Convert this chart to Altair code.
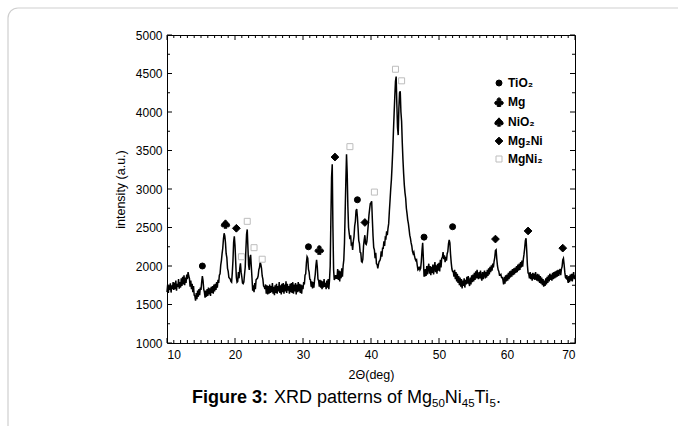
import altair as alt
import pandas as pd

# ---------------- data ----------------
two_theta_start = 10.0
two_theta_step = 0.1
intensity = [
    1660, 1760, 1650, 1745, 1690, 1775, 1655, 1750, 1700, 1790,   # 10
    1690, 1785, 1700, 1810, 1680, 1770, 1730, 1830, 1705, 1790,   # 11
    1720, 1840, 1740, 1860, 1760, 1880, 1750, 1850, 1780, 1890,   # 12
    1830, 1920, 1870, 1840, 1730, 1810, 1700, 1770, 1660, 1740,   # 13
    1620, 1610, 1550, 1650, 1570, 1680, 1600, 1700, 1620, 1720,   # 14
    1690, 1790, 1870, 1810, 1700, 1660, 1590, 1680, 1600, 1700,   # 15
    1610, 1720, 1630, 1710, 1610, 1730, 1650, 1740, 1640, 1760,   # 16
    1670, 1770, 1690, 1790, 1720, 1820, 1780, 1880, 1900, 2010,   # 17
    2070, 2160, 2230, 2350, 2425, 2390, 2300, 2160, 2110, 1970,   # 18
    1930, 1850, 1840, 1830, 1800, 1790, 1910, 2070, 2310, 2385,   # 19
    2270, 2060, 1850, 1790, 1800, 1920, 1840, 1970, 2035, 1920,   # 20
    1860, 1780, 1770, 1790, 1890, 1980, 2210, 2410, 2475, 2240,   # 21
    2010, 1950, 2110, 2145, 1990, 1840, 1680, 1750, 1660, 1780,   # 22
    1700, 1820, 1830, 1840, 1870, 1950, 1980, 2050, 2020, 1970,   # 23
    1870, 1830, 1740, 1730, 1700, 1760, 1640, 1750, 1630, 1740,   # 24
    1640, 1760, 1650, 1740, 1660, 1780, 1640, 1730, 1620, 1750,   # 25
    1650, 1770, 1640, 1740, 1670, 1790, 1650, 1750, 1630, 1770,   # 26
    1660, 1780, 1640, 1760, 1670, 1800, 1650, 1770, 1680, 1740,   # 27
    1640, 1770, 1660, 1780, 1650, 1790, 1640, 1760, 1670, 1780,   # 28
    1630, 1760, 1660, 1790, 1670, 1770, 1650, 1760, 1640, 1750,   # 29
    1700, 1790, 1760, 1880, 1900, 2040, 2120, 2100, 1960, 1920,   # 30
    1830, 1820, 1730, 1800, 1710, 1790, 1720, 1820, 1890, 2010,   # 31
    2080, 1990, 1830, 1810, 1730, 1820, 1720, 1810, 1700, 1800,   # 32
    1720, 1830, 1730, 1780, 1700, 1810, 1720, 1830, 1700, 1820,   # 33
    2000, 2600, 3150, 3320, 2500, 1950, 1820, 1840, 1880, 1840,   # 34
    1840, 1960, 1820, 1940, 1800, 1930, 1840, 1970, 1860, 2000,   # 35
    2080, 2300, 2700, 3100, 3450, 3200, 2770, 2500, 2420, 2350,   # 36
    2400, 2280, 2290, 2210, 2320, 2380, 2520, 2580, 2720, 2740,   # 37
    2640, 2490, 2330, 2290, 2180, 2170, 2060, 2050, 2090, 2260,   # 38
    2340, 2400, 2290, 2280, 2320, 2430, 2540, 2660, 2740, 2810,   # 39
    2820, 2840, 2600, 2390, 2240, 2210, 2100, 2170, 2030, 2020,   # 40
    1970, 2020, 2060, 2070, 2100, 2190, 2120, 2230, 2230, 2320,   # 41
    2260, 2370, 2360, 2450, 2400, 2490, 2550, 2710, 2850, 3000,   # 42
    3120, 3300, 3500, 3750, 3980, 4200, 4400, 4460, 4100, 3800,   # 43
    3700, 4050, 4250, 4270, 4000, 3880, 3600, 3380, 3200, 3050,   # 44
    2950, 2880, 2750, 2680, 2600, 2550, 2480, 2400, 2360, 2300,   # 45
    2260, 2190, 2160, 2180, 2130, 2090, 2070, 2080, 2010, 1950,   # 46
    1960, 1990, 1950, 1970, 2060, 2200, 2300, 2100, 1870, 1870,   # 47
    1960, 1870, 2000, 1890, 1980, 2030, 1900, 2000, 1880, 1990,   # 48
    1910, 2020, 1890, 1980, 2050, 1920, 2010, 1900, 2030, 1940,   # 49
    2040, 1930, 2080, 1980, 2100, 2110, 2180, 2090, 2140, 2050,   # 50
    2120, 2070, 2160, 2190, 2290, 2340, 2300, 2150, 2040, 1960,   # 51
    1930, 1930, 1860, 1950, 1830, 1920, 1800, 1900, 1780, 1870,   # 52
    1750, 1850, 1730, 1830, 1710, 1810, 1740, 1840, 1720, 1820,   # 53
    1760, 1860, 1770, 1870, 1780, 1740, 1850, 1760, 1880, 1790,   # 54
    1890, 1800, 1910, 1820, 1930, 1840, 1950, 1860, 1830, 1920,   # 55
    1840, 1940, 1850, 1810, 1920, 1830, 1900, 1940, 1840, 1920,   # 56
    1850, 1950, 1870, 1970, 1890, 1990, 1920, 2010, 1940, 2030,   # 57
    1980, 2060, 2110, 2200, 2210, 2090, 2000, 1950, 1930, 1880,   # 58
    1880, 1890, 1850, 1850, 1820, 1760, 1860, 1770, 1880, 1800,   # 59
    1890, 1810, 1910, 1830, 1930, 1850, 1940, 1860, 1960, 1880,   # 60
    1970, 1890, 1980, 1910, 2000, 1920, 2020, 1940, 2030, 1950,   # 61
    2050, 1980, 2070, 1990, 2090, 2150, 2230, 2330, 2360, 2200,   # 62
    2010, 1910, 1900, 1840, 1920, 1830, 1900, 1810, 1910, 1830,   # 63
    1900, 1820, 1920, 1840, 1810, 1900, 1800, 1890, 1780, 1870,   # 64
    1770, 1850, 1750, 1830, 1730, 1810, 1740, 1840, 1760, 1860,   # 65
    1780, 1880, 1800, 1900, 1820, 1890, 1810, 1910, 1830, 1920,   # 66
    1840, 1930, 1850, 1940, 1860, 1950, 1870, 1930, 1960, 1880,   # 67
    1960, 1990, 2080, 2100, 2020, 1920, 1850, 1840, 1880, 1830,   # 68
    1780, 1870, 1790, 1890, 1810, 1900, 1800, 1880, 1920, 1830,   # 69
    1880,                                                         # 70
]
two_theta = [round(two_theta_start + i * two_theta_step, 1) for i in range(len(intensity))]

phase_names = ["TiO\u2082", "Mg", "NiO\u2082", "Mg\u2082Ni", "MgNi\u2082"]
marker_phase = (["TiO\u2082"] * 5 + ["Mg"] + ["NiO\u2082"] + ["Mg\u2082Ni"] * 6 + ["MgNi\u2082"] * 8)
marker_deg = [15.2, 30.8, 38.0, 47.8, 52.0,
              32.4,
              18.6,
              20.2, 34.7, 39.1, 58.3, 63.1, 68.2,
              20.95, 21.8, 22.8, 24.0, 36.9, 40.5, 43.6, 44.5]
marker_val = [2000, 2250, 2860, 2375, 2510,
              2210,
              2545,
              2490, 3415, 2565, 2350, 2455, 2232,
              2120, 2580, 2238, 2088, 3550, 2960, 4555, 4405]

x_major = [10, 20, 30, 40, 50, 60, 70]
x_minor = [v for v in range(11, 70) if v % 10 != 0]
y_major = [1000, 1500, 2000, 2500, 3000, 3500, 4000, 4500, 5000]
y_minor = [1250, 1750, 2250, 2750, 3250, 3750, 4250, 4750]

caption_bold = "Figure 3:"
caption_parts = ["XRD patterns of Mg", "50", "Ni", "45", "Ti", "5", "."]

# ---------------- styling ----------------
FONT = "Liberation Sans"
W, H = 408, 308
CLUB = ("M-0.42,-0.5 a0.42,0.42 0 1,0 0.84,0 a0.42,0.42 0 1,0 -0.84,0 Z "
        "M-0.95,0.22 a0.42,0.42 0 1,0 0.84,0 a0.42,0.42 0 1,0 -0.84,0 Z "
        "M0.11,0.22 a0.42,0.42 0 1,0 0.84,0 a0.42,0.42 0 1,0 -0.84,0 Z "
        "M-0.16,-0.3 L0.16,-0.3 L0.16,0.3 L0.38,1 L-0.38,1 L-0.16,0.3 Z")
SPADE = ("M0,-1 C0.25,-0.6 1,-0.2 1,0.35 C1,0.75 0.4,0.8 0.12,0.5 "
         "L0.35,1 L-0.35,1 L-0.12,0.5 C-0.4,0.8 -1,0.75 -1,0.35 C-1,-0.2 -0.25,-0.6 0,-1 Z")

xs = alt.Scale(domain=[10, 70], nice=False, zero=False)
ys = alt.Scale(domain=[1000, 5000], nice=False, zero=False)
ax_x = alt.Axis(title="2\u0398(deg)", values=x_major, format="d", ticks=False,
                domain=False, grid=False, labelPadding=6, titlePadding=8)
ax_y = alt.Axis(title="intensity (a.u.)", values=y_major, format="d", ticks=False,
                domain=False, grid=False, labelPadding=5, titlePadding=8)

curve_df = pd.DataFrame({"two_theta": two_theta, "intensity": intensity})
marker_df = pd.DataFrame({"phase": marker_phase, "deg": marker_deg, "val": marker_val})

frame = alt.Chart(pd.DataFrame({"a": [0]})).mark_rect(
    fill="white", fillOpacity=0, stroke="#cfcfcf", strokeWidth=1.2, cornerRadius=10
).encode(x=alt.value(-159), x2=alt.value(800), y=alt.value(-27), y2=alt.value(600))

line = alt.Chart(curve_df).mark_line(color="black", strokeWidth=1.5).encode(
    x=alt.X("two_theta:Q", scale=xs, axis=ax_x),
    y=alt.Y("intensity:Q", scale=ys, axis=ax_y),
)

leg = alt.Legend(orient="none", legendX=326, legendY=42, title=None, padding=0,
                 labelFont=FONT, labelFontWeight="bold", labelFontSize=12,
                 labelColor="black", rowPadding=6, labelOffset=3, symbolStrokeWidth=1)

points = alt.Chart(marker_df).mark_point(opacity=1, strokeWidth=1).encode(
    x=alt.X("deg:Q", scale=xs, axis=ax_x),
    y=alt.Y("val:Q", scale=ys, axis=ax_y),
    shape=alt.Shape("phase:N", legend=leg,
                    scale=alt.Scale(domain=phase_names,
                                    range=["circle", CLUB, SPADE, "diamond", "square"])),
    fill=alt.Fill("phase:N", legend=leg,
                  scale=alt.Scale(domain=phase_names,
                                  range=["black", "black", "black", "black", "white"])),
    stroke=alt.Stroke("phase:N", legend=leg,
                      scale=alt.Scale(domain=phase_names,
                                      range=["black", "black", "black", "black", "#bdbdbd"])),
    size=alt.Size("phase:N", legend=leg,
                  scale=alt.Scale(type="ordinal", domain=phase_names,
                                  range=[36, 80, 70, 60, 36])),
)


def yticks(vals, length, right):
    df = pd.DataFrame({"intensity": vals})
    xa, xb = (W, W - length) if right else (0, length)
    return alt.Chart(df).mark_rule(color="black", strokeWidth=1).encode(
        y=alt.Y("intensity:Q", scale=ys, axis=ax_y), x=alt.value(xa), x2=alt.value(xb))


def xticks(vals, length, top):
    df = pd.DataFrame({"two_theta": vals})
    ya, yb = (0, length) if top else (H, H - length)
    return alt.Chart(df).mark_rule(color="black", strokeWidth=1).encode(
        x=alt.X("two_theta:Q", scale=xs, axis=ax_x), y=alt.value(ya), y2=alt.value(yb))


ticks = [
    yticks(y_major, 5, False), yticks(y_minor, 3, False),
    yticks(y_major, 5, True), yticks(y_minor, 3, True),
    xticks(x_major, 5, False), xticks(x_minor, 3, False),
    xticks(x_major, 5, True), xticks(x_minor, 3, True),
]


def text_piece(s, x, y, size, bold=False):
    return alt.Chart(pd.DataFrame({"s": [s]})).mark_text(
        font=FONT, fontSize=size, fontWeight="bold" if bold else "normal",
        align="left", baseline="alphabetic", color="black"
    ).encode(text="s:N", x=alt.value(x), y=alt.value(y))


# caption laid out left to right (x in pixels relative to plot area)
BASE = 368
cap = [text_piece(caption_bold, 25, BASE, 18, bold=True)]
cx = 107.0
main_size, sub_size = 18, 11.5
widths = {"XRD patterns of Mg": 8.78, "Ni": 0.944, "Ti": 0.833, ".": 0.278}
for i, part in enumerate(caption_parts):
    if i in (1, 3, 5):
        cap.append(text_piece(part, cx, BASE + 4, sub_size))
        cx += 0.556 * sub_size * len(part)
    else:
        cap.append(text_piece(part, cx, BASE, main_size))
        cx += widths[part] * main_size

chart = alt.layer(frame, line, points, *ticks, *cap).properties(
    width=W, height=H,
    autosize=alt.AutoSizeParams(type="none"),
    padding={"left": 167, "top": 35, "right": 103, "bottom": 83},
    background="white",
).configure_axis(
    labelFont=FONT, labelFontSize=12, labelColor="black",
    titleFont=FONT, titleFontSize=12.5, titleColor="black", titleFontWeight="normal",
).configure_view(stroke="black", strokeWidth=1)

chart.save("out.html", embed_options={"renderer": "svg", "actions": False})
